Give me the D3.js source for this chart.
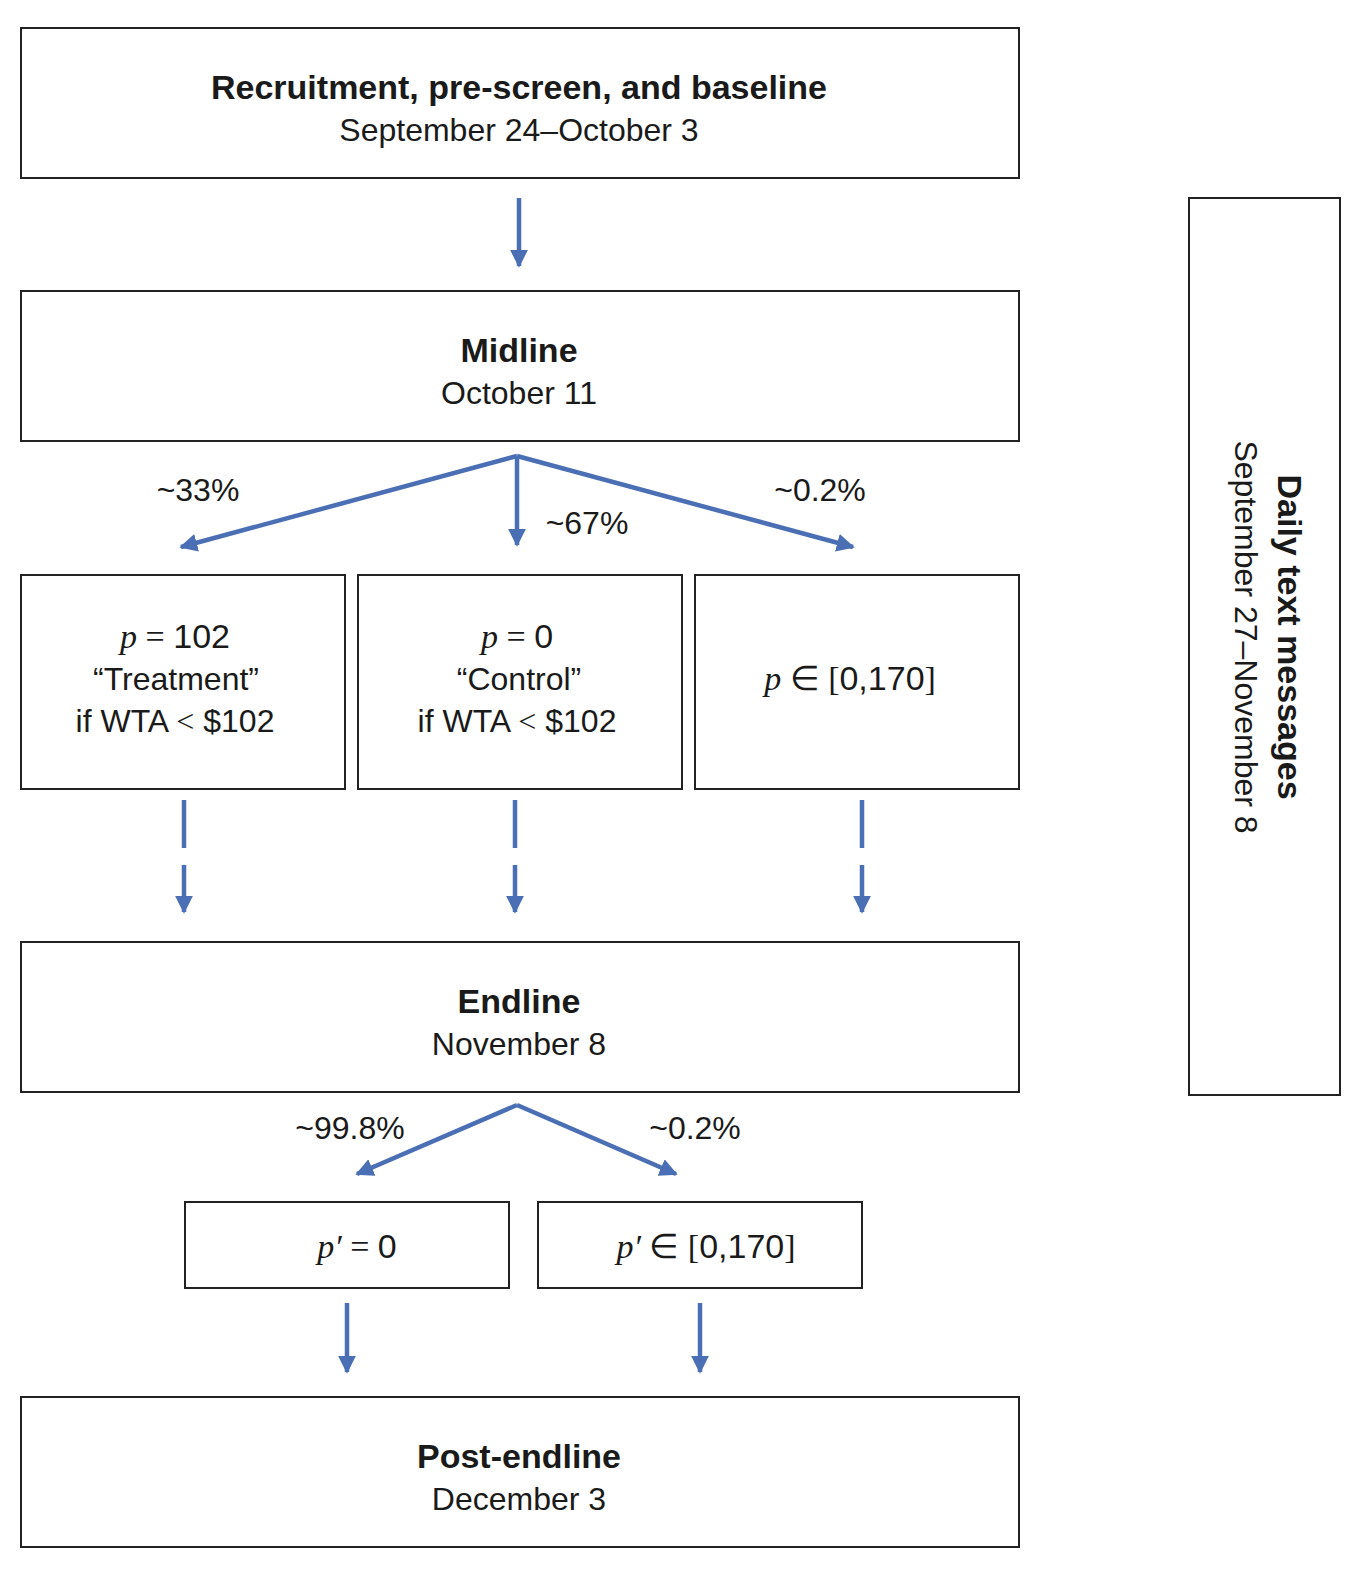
<!DOCTYPE html><html><head><meta charset="utf-8"><script src="https://cdn.jsdelivr.net/npm/d3@7"></script>
<style>body{margin:0;background:#fff}text{font-family:"Liberation Sans",Arial,sans-serif;fill:#1a1a1a}</style></head><body>
<script>
const stageTitles=["Recruitment, pre-screen, and baseline","Midline","Endline","Post-endline"];
const stageDates=["September 24–October 3","October 11","November 8","December 3"];
const firstSplit=["~33%","~67%","~0.2%"];
const secondSplit=["~99.8%","~0.2%"];
const sideTitle="Daily text messages", sideDates="September 27–November 8";
const C="#4a6fb5";
const svg=d3.select("body").append("svg").attr("width",1372).attr("height",1572);
const defs=svg.append("defs");
defs.append("marker").attr("id","ah").attr("viewBox","0 0 10 10").attr("refX",9).attr("refY",5)
 .attr("markerWidth",4).attr("markerHeight",4).attr("orient","auto-start-reverse").attr("markerUnits","strokeWidth")
 .append("path").attr("d","M0,0L10,5L0,10z").attr("fill",C);
function box(x,y,w,h){svg.append("rect").attr("x",x).attr("y",y).attr("width",w).attr("height",h).attr("fill","none").attr("stroke","#222").attr("stroke-width",2);}
function arrow(x1,y1,x2,y2){svg.append("line").attr("x1",x1).attr("y1",y1).attr("x2",x2).attr("y2",y2).attr("stroke",C).attr("stroke-width",4.5).attr("marker-end","url(#ah)");}
function seg(x1,y1,x2,y2){svg.append("line").attr("x1",x1).attr("y1",y1).attr("x2",x2).attr("y2",y2).attr("stroke",C).attr("stroke-width",4.5);}
function txt(x,y,s,size,bold){return svg.append("text").attr("x",x).attr("y",y).attr("text-anchor","middle").attr("font-size",size).attr("font-weight",bold?"bold":"normal").text(s);}
function math(x,y,parts,size){const t=svg.append("text").attr("x",x).attr("y",y).attr("text-anchor","middle").attr("font-size",size);
 parts.forEach(p=>{const ts=t.append("tspan").text(p[0]);if(p[1])ts.attr("font-family","Liberation Serif,serif").attr("font-style",p[1]==="i"?"italic":"normal");});return t;}
const stageY=[28,291,942,1397];
stageY.forEach((y,i)=>{box(21,y,998,150);txt(519,y+71,stageTitles[i],34,true);txt(519,y+113,stageDates[i],32,false);});
arrow(519,198,519,266);
arrow(517,456,181,547);arrow(517,456,517,545);arrow(517,456,853,547);
txt(198,501,firstSplit[0],32);txt(587,534,firstSplit[1],32);txt(820,501,firstSplit[2],32);
[[21],[358],[695]].forEach(([x])=>box(x,575,324,214));
math(175,648,[["p","i"],[" = ","s"],["102"]],34);txt(176,690,"“Treatment”",32);math(175,732,[["if WTA "],["<","s"],[" $102"]],32);
math(517,648,[["p","i"],[" = ","s"],["0"]],34);txt(519,690,"“Control”",32);math(517,732,[["if WTA "],["<","s"],[" $102"]],32);
math(850,690,[["p","i"],[" ∈ [","s"],["0,170"],["]","s"]],34);
[184,515,862].forEach(x=>{seg(x,800,x,848);arrow(x,865,x,912);});
arrow(517,1105,357,1174);arrow(517,1105,676,1174);
txt(350,1139,secondSplit[0],32);txt(695,1139,secondSplit[1],32);
box(185,1202,324,86);box(538,1202,324,86);
math(357,1258,[["p′","i"],[" = ","s"],["0"]],34);math(706,1258,[["p′","i"],[" ∈ [","s"],["0,170"],["]","s"]],34);
arrow(347,1303,347,1372);arrow(700,1303,700,1372);
box(1189,198,151,897);
svg.append("text").attr("transform","translate(1278,637) rotate(90)").attr("text-anchor","middle").attr("font-size",34).attr("font-weight","bold").text(sideTitle);
svg.append("text").attr("transform","translate(1235,637) rotate(90)").attr("text-anchor","middle").attr("font-size",32).text(sideDates);
</script></body></html>
